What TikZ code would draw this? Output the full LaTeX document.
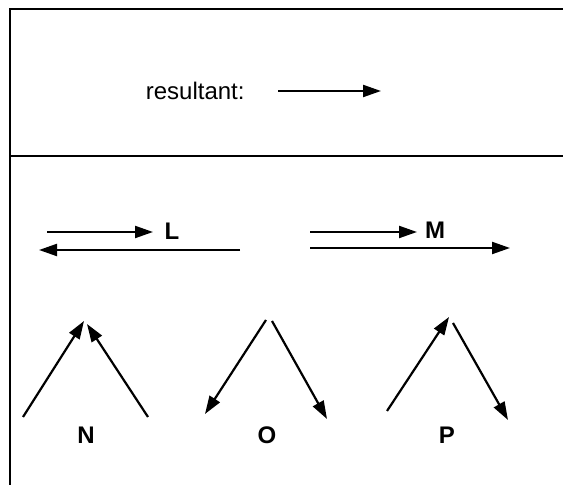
\documentclass[tikz,border=0pt]{standalone}
\usepackage{fontspec}
\setmainfont{Liberation Sans}
\usetikzlibrary{arrows.meta}
\begin{document}
\begin{tikzpicture}[x=0.5pt,y=-0.5pt,
  vec/.style={line width=1.1pt,-{Triangle[length=9pt,width=6pt]}},
  frame/.style={line width=0.8pt},
  lbl/.style={font=\fontsize{12}{14}\selectfont\bfseries,inner sep=0pt},
  txt/.style={font=\fontsize{12}{14}\selectfont,inner sep=0pt}]
\useasboundingbox (0,0) rectangle (563,485);
% frame
\coordinate (tl) at (10,9);
\coordinate (tr) at (563,9);
\coordinate (bl) at (10,485);
\coordinate (ml) at (10,156);
\coordinate (mr) at (563,156);
\draw[frame] (tr) -- (tl) -- (bl);
\draw[frame] (ml) -- (mr);
% resultant
\node[txt,anchor=east] (res) at (245,91) {resultant:};
\coordinate (r1) at (278,91);
\coordinate (r2) at (381,91);
\draw[vec] (r1) -- (r2);
% L
\coordinate (l1a) at (47,232);
\coordinate (l1b) at (153,232);
\coordinate (l2a) at (240,250);
\coordinate (l2b) at (39,250);
\draw[vec] (l1a) -- (l1b);
\draw[vec] (l2a) -- (l2b);
\node[lbl] (L) at (172,231) {L};
% M
\coordinate (m1a) at (310,232);
\coordinate (m1b) at (417,232);
\coordinate (m2a) at (310,248);
\coordinate (m2b) at (510,248);
\draw[vec] (m1a) -- (m1b);
\draw[vec] (m2a) -- (m2b);
\node[lbl] (M) at (435,230) {M};
% N
\coordinate (n1a) at (23,417);
\coordinate (n1b) at (84,321);
\coordinate (n2a) at (148,417);
\coordinate (n2b) at (87,324);
\draw[vec] (n1a) -- (n1b);
\draw[vec] (n2a) -- (n2b);
\node[lbl] (N) at (86,435) {N};
% O
\coordinate (o1a) at (266,320);
\coordinate (o1b) at (205,414);
\coordinate (o2a) at (272,321);
\coordinate (o2b) at (327,419);
\draw[vec] (o1a) -- (o1b);
\draw[vec] (o2a) -- (o2b);
\node[lbl] (O) at (267,435) {O};
% P
\coordinate (p1a) at (387,411);
\coordinate (p1b) at (449,317);
\coordinate (p2a) at (453,323);
\coordinate (p2b) at (508,420);
\draw[vec] (p1a) -- (p1b);
\draw[vec] (p2a) -- (p2b);
\node[lbl] (P) at (447,435) {P};
\end{tikzpicture}
\end{document}
